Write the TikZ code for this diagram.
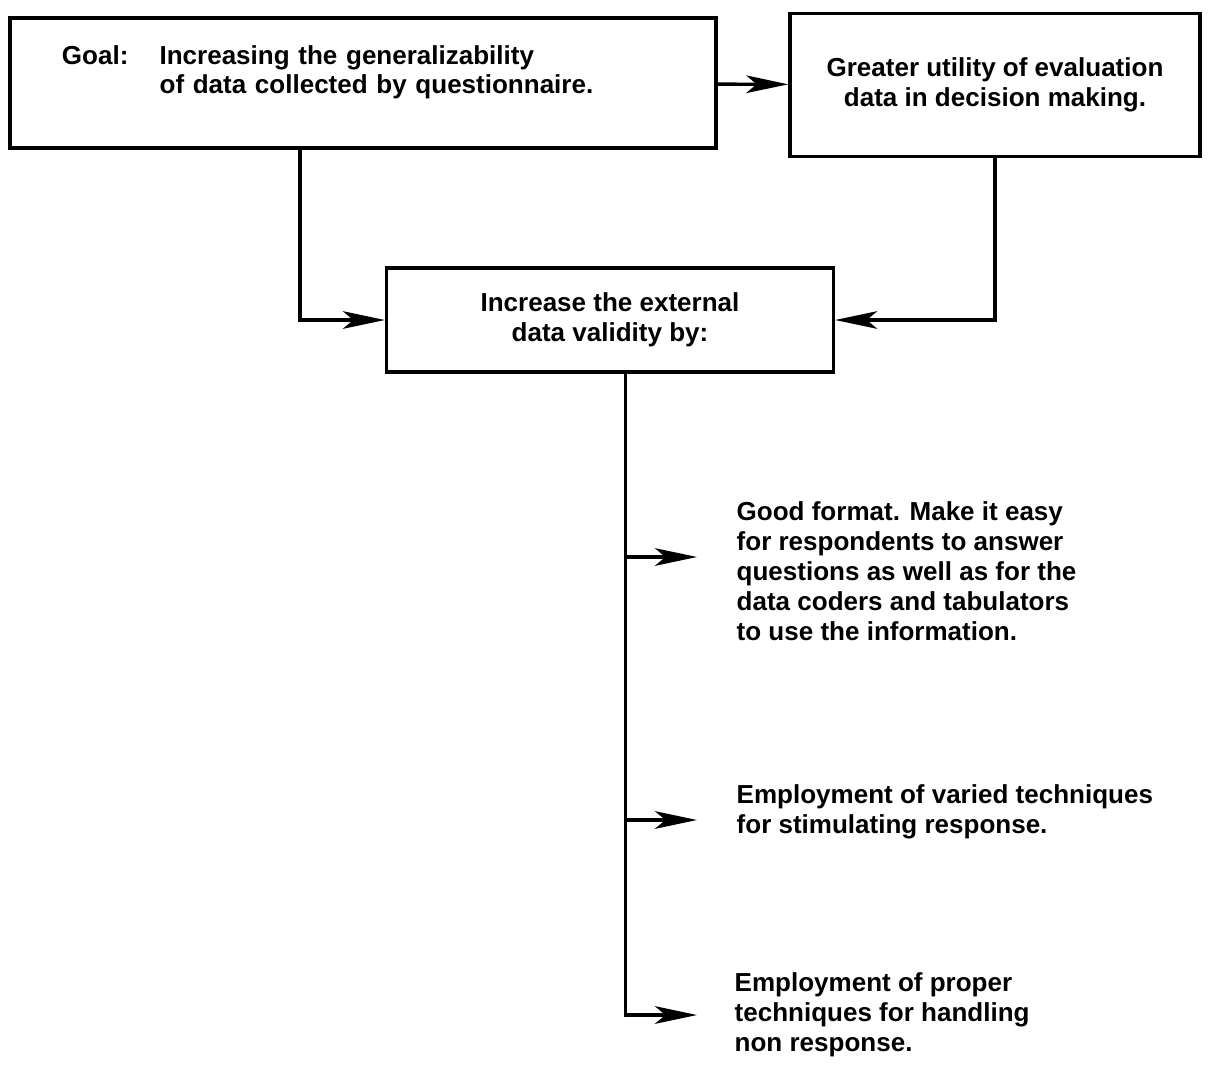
\documentclass[tikz,border=0pt]{standalone}
\usepackage{fontspec}
\setmainfont{Liberation Sans}
\usetikzlibrary{arrows.meta}

\begin{document}
\begin{tikzpicture}[
  x=0.025cm, y=-0.025cm, line width=2.4pt,
  box/.style={draw, align=center,
              font=\bfseries\fontsize{18.5}{21.3}\selectfont},
  txt/.style={anchor=west, align=left, inner sep=0pt,
              font=\bfseries\fontsize{18.5}{21.3}\selectfont},
  >={Stealth[length=1.05cm, width=0.44cm, inset=0.26cm]}
]
\useasboundingbox (0,0) rectangle (1215,1067);
\node[box, minimum width=17.65cm, minimum height=3.25cm, text width=15.05cm,
      inner xsep=1.3cm, align=left] (goal) at (363,83)
  {\raisebox{0.25cm}[\height][\depth]{\begin{tabular}{@{}l@{\hspace{0.78cm}}l@{}}
   Goal: & Increasing the generalizability\\
         & of data collected by questionnaire.\end{tabular}}};
\node[box, minimum width=10.25cm, minimum height=3.57cm] (util) at (995,85)
  {Greater utility of evaluation\\data in decision making.};
\node[box, minimum width=11.17cm, minimum height=2.6cm] (incr) at (610,320)
  {Increase the external\\data validity by:};
\node[txt] (fmt)  at (735,571) {Good format. Make it easy\\for respondents to answer\\questions as well as for the\\data coders and tabulators\\to use the information.};
\node[txt] (vary) at (735,812) {Employment of varied techniques\\for stimulating response.};
\node[txt] (nonr) at (733,1015) {Employment of proper\\techniques for handling\\non response.};
\coordinate (trunk) at ([xshift=0.38cm]incr.south);
\coordinate (tip1) at (697,557);
\coordinate (tip2) at (697,820);
\coordinate (tip3) at (697,1015);
\draw[->] (goal) -- (util);
\draw[->] ([xshift=-1.575cm]goal.south) |- (incr.west);
\draw[->] (util.south) |- (incr.east);
\draw[->] (trunk) |- (tip3);
\draw[->] (trunk |- tip1) -- (tip1);
\draw[->] (trunk |- tip2) -- (tip2);
\end{tikzpicture}
\end{document}
